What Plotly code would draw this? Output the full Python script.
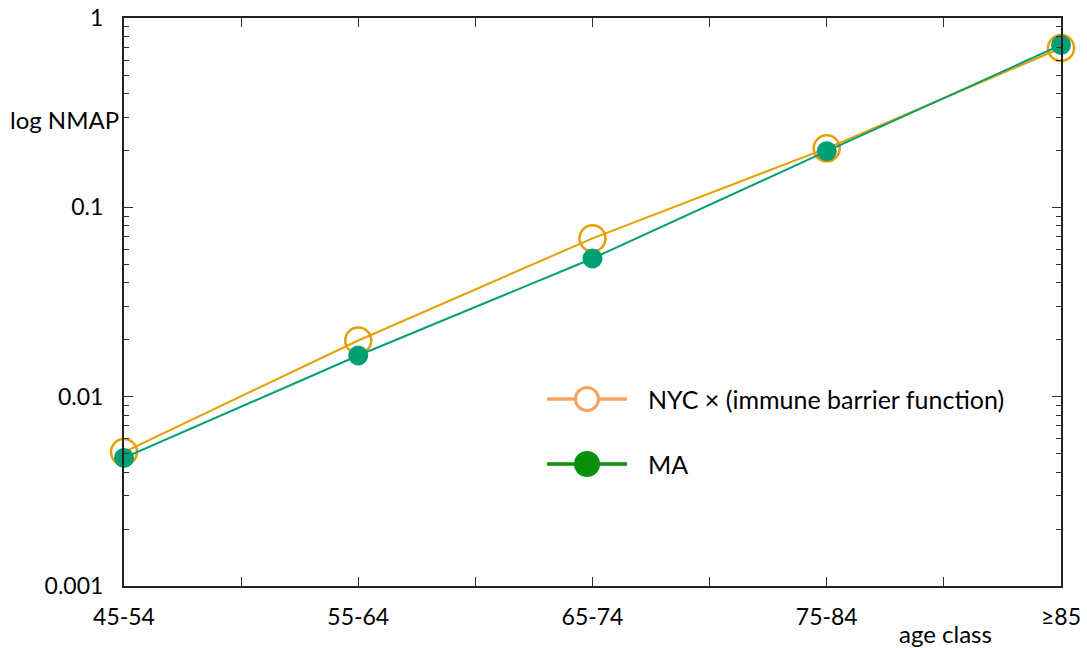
import plotly.graph_objects as go

categories = ["45-54", "55-64", "65-74", "75-84", "≥85"]
nyc_values = [0.0051, 0.0198, 0.0686, 0.205, 0.694]
ma_values = [0.00475, 0.0165, 0.0537, 0.198, 0.72]
y_tick_vals = [0.001, 0.01, 0.1, 1]
y_tick_text = ["0.001", "0.01", "0.1", "1"]
legend_names = ["NYC × (immune barrier function)", "MA"]

FONT = "Lato"
x_idx = list(range(len(categories)))
y_minor = [m * 10 ** e for e in (-3, -2, -1) for m in range(2, 10)]

fig = go.Figure()
fig.add_trace(go.Scatter(
    x=x_idx, y=nyc_values, mode="lines+markers", name=legend_names[0],
    line=dict(color="#E69F00", width=2),
    marker=dict(symbol="circle-open", size=26, color="#E69F00", line=dict(width=2.5)),
    cliponaxis=False, showlegend=False))
fig.add_trace(go.Scatter(
    x=x_idx, y=ma_values, mode="lines+markers", name=legend_names[1],
    line=dict(color="#009E73", width=2),
    marker=dict(symbol="circle", size=20, color="#009E73"),
    cliponaxis=False, showlegend=False))

axis_common = dict(showgrid=False, zeroline=False, showline=True, linecolor="#222",
                   linewidth=2, mirror="ticks", ticks="inside", ticklen=9,
                   tickcolor="#333", tickwidth=1.3, automargin=False)

fig.update_xaxes(range=[0, 4], tickvals=x_idx, ticktext=categories,
                 minor=dict(dtick=0.5, tick0=0, ticks="inside", ticklen=9, tickcolor="#333"),
                 tickfont=dict(family=FONT, size=23, color="black"),
                 ticklabelstandoff=9, **axis_common)
fig.update_yaxes(type="log", range=[-3, 0], tickvals=y_tick_vals, ticktext=y_tick_text,
                 minor=dict(tickvals=y_minor, ticks="inside", ticklen=5, tickcolor="#333"),
                 tickfont=dict(family=FONT, size=23, color="black"),
                 ticklabelstandoff=14, **axis_common)

# axis titles as free text like the original
fig.add_annotation(text="log NMAP", xref="paper", yref="paper", x=-0.003, y=(586 - 120) / 568,
                   xanchor="right", yanchor="middle", showarrow=False,
                   font=dict(family=FONT, size=24, color="black"))
fig.add_annotation(text="age class", xref="paper", yref="paper", x=(945 - 124) / 937,
                   y=(586 - 634) / 568, xanchor="center", yanchor="middle", showarrow=False,
                   font=dict(family=FONT, size=24, color="black"))

# custom legend
def px_x(p):
    return (p - 124) / 937

def px_y(p):
    return (586 - p) / 568

legend_rows = [
    (399, "#F4A460", "white", 3, 11.5, legend_names[0]),
    (464, "#0A8F0A", "#0A8F0A", 0, 13, legend_names[1]),
]
for py, col, fill, lw, r, label in legend_rows:
    fig.add_shape(type="line", xref="paper", yref="paper", x0=px_x(547), x1=px_x(627),
                  y0=px_y(py), y1=px_y(py), line=dict(color=col, width=3.5))
    fig.add_shape(type="circle", xref="paper", yref="paper", xsizemode="pixel", ysizemode="pixel",
                  xanchor=px_x(587), yanchor=px_y(py), x0=-r, x1=r, y0=-r, y1=r,
                  line=dict(color=col, width=lw if lw else 0.1), fillcolor=fill)
    fig.add_annotation(text=label, xref="paper", yref="paper", x=px_x(646), y=px_y(py),
                       xanchor="left", yanchor="middle", showarrow=False,
                       font=dict(family=FONT, size=25, color="black"))

fig.update_layout(width=1087, height=648, margin=dict(l=124, r=26, t=18, b=62),
                  plot_bgcolor="white", paper_bgcolor="white",
                  font=dict(family=FONT, color="black"))

fig.write_html("out.html")
